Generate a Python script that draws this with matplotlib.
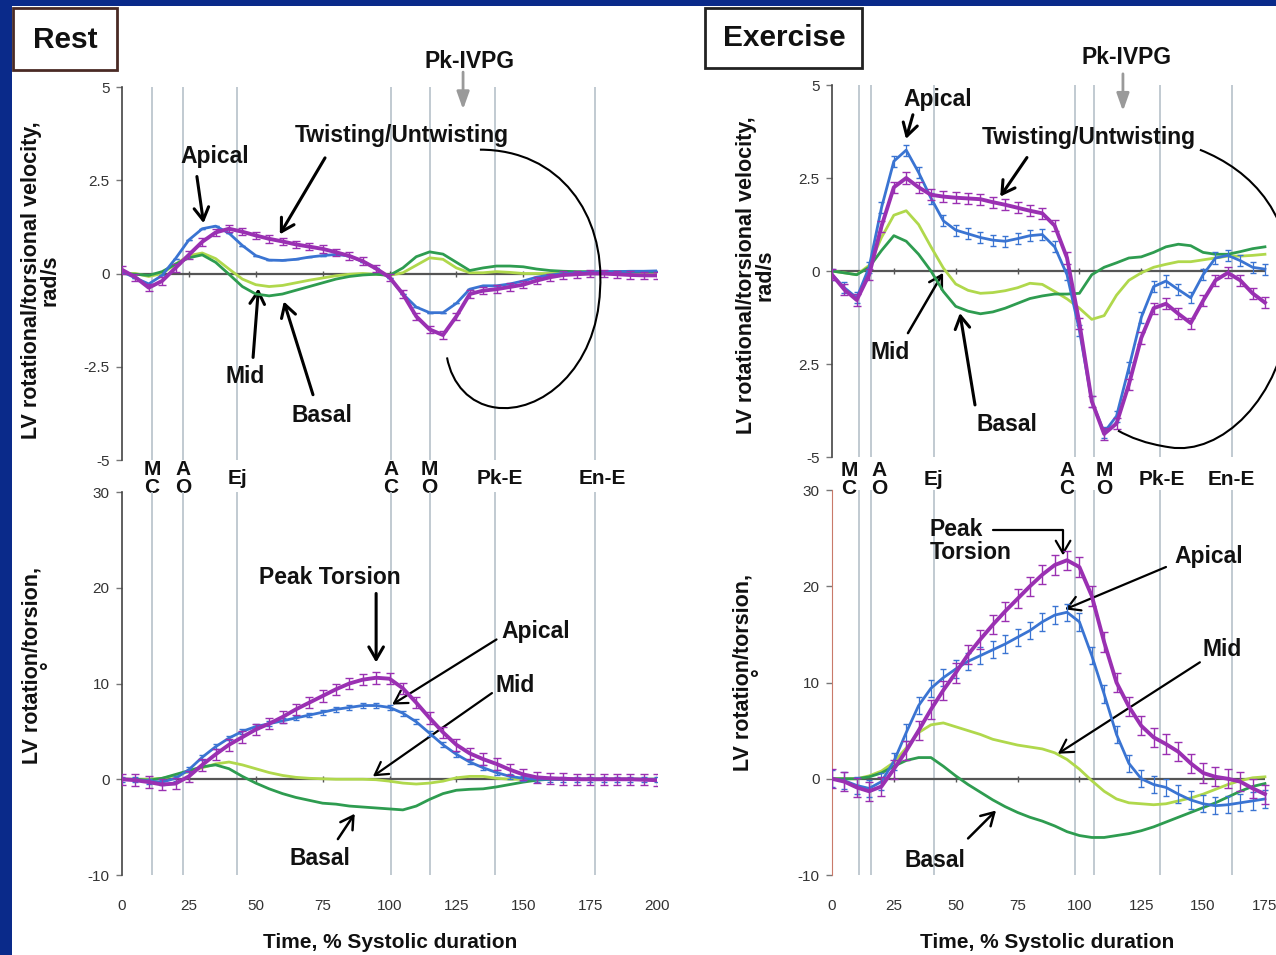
import numpy as np
import matplotlib
matplotlib.use('Agg')
import matplotlib.pyplot as plt
from matplotlib.patches import Rectangle, PathPatch
from matplotlib.path import Path

plt.rcParams['font.family'] = ['Liberation Sans', 'DejaVu Sans']

#---- data ----
rest_x = np.arange(0, 201, 5)
# rotational / torsional velocity, rest (rad/s)
rest_vel_apical = [0.05, -0.12, -0.28, -0.05, 0.4, 0.9, 1.2, 1.27, 1.08, 0.75, 0.48, 0.36, 0.35, 0.38,
                   0.44, 0.48, 0.51, 0.47, 0.32, 0.14, -0.12, -0.55, -0.9, -1.05, -1.05, -0.8, -0.42,
                   -0.33, -0.33, -0.28, -0.2, -0.1, -0.04, 0.0, 0.02, 0.04, 0.05, 0.05, 0.06, 0.06, 0.07]
rest_vel_twist = [0.1, -0.1, -0.38, -0.2, 0.15, 0.5, 0.85, 1.1, 1.2, 1.12, 1.02, 0.93, 0.86, 0.78,
                  0.72, 0.66, 0.57, 0.47, 0.33, 0.13, -0.1, -0.55, -1.15, -1.5, -1.65, -1.15, -0.55,
                  -0.46, -0.42, -0.36, -0.3, -0.19, -0.1, -0.04, -0.02, 0.0, 0.0, -0.02, -0.04, -0.05, -0.05]
rest_vel_mid = [0.0, 0.0, -0.08, 0.0, 0.25, 0.48, 0.55, 0.4, 0.12, -0.15, -0.3, -0.35, -0.32, -0.25,
                -0.18, -0.12, -0.06, -0.02, 0.0, -0.02, -0.05, 0.02, 0.22, 0.42, 0.38, 0.15, 0.02,
                0.02, 0.05, 0.03, 0.0, 0.0, 0.0, 0.0, 0.0, 0.0, 0.0, 0.0, 0.0, 0.0, 0.0]
rest_vel_basal = [0.0, -0.02, -0.05, 0.05, 0.25, 0.42, 0.5, 0.3, -0.02, -0.35, -0.55, -0.6, -0.55, -0.45,
                  -0.35, -0.25, -0.15, -0.08, -0.04, -0.02, -0.05, 0.15, 0.45, 0.58, 0.52, 0.3, 0.08,
                  0.15, 0.2, 0.2, 0.18, 0.12, 0.08, 0.06, 0.05, 0.05, 0.05, 0.05, 0.05, 0.05, 0.05]
# rotation / torsion, rest (degrees)
rest_rot_apical = [0.0, -0.05, -0.2, -0.3, 0.1, 1.0, 2.3, 3.4, 4.3, 5.0, 5.5, 5.8, 6.1, 6.4, 6.7, 7.0,
                   7.3, 7.5, 7.7, 7.7, 7.5, 6.9, 6.0, 4.8, 3.6, 2.6, 1.8, 1.2, 0.7, 0.3, 0.1, 0.0, 0.0,
                   0.0, 0.0, 0.0, 0.0, 0.0, 0.0, 0.0, 0.0]
rest_rot_twist = [0.0, -0.1, -0.3, -0.55, -0.45, 0.3, 1.5, 2.6, 3.6, 4.4, 5.2, 5.8, 6.5, 7.3, 8.0, 8.7,
                  9.4, 10.0, 10.4, 10.6, 10.5, 9.5, 8.0, 6.4, 4.9, 3.6, 2.7, 2.1, 1.6, 1.0, 0.5, 0.2,
                  0.1, 0.05, 0.0, 0.0, 0.0, 0.0, 0.0, -0.05, -0.1]
rest_rot_mid = [0.0, 0.0, 0.0, 0.1, 0.4, 0.8, 1.2, 1.6, 1.8, 1.5, 1.1, 0.7, 0.4, 0.2, 0.1, 0.05, 0.0,
                0.0, 0.0, -0.05, -0.2, -0.4, -0.5, -0.4, -0.2, 0.15, 0.3, 0.3, 0.1, 0.0, 0.0, 0.0,
                0.0, 0.0, 0.0, 0.0, 0.0, 0.0, 0.0, 0.0, 0.0]
rest_rot_basal = [0.0, 0.0, -0.1, 0.1, 0.5, 0.9, 1.3, 1.5, 1.1, 0.3, -0.4, -1.0, -1.5, -1.9, -2.2, -2.5,
                  -2.6, -2.8, -2.9, -3.0, -3.1, -3.2, -2.8, -2.1, -1.5, -1.15, -1.05, -1.0, -0.8, -0.55,
                  -0.3, -0.1, 0.0, 0.0, 0.0, 0.0, 0.0, 0.0, 0.0, 0.0, 0.0]

ex_x = np.arange(0, 176, 5)
# rotational / torsional velocity, exercise (rad/s)
ex_vel_apical = [-0.1, -0.45, -0.72, 0.1, 1.7, 2.95, 3.25, 2.65, 1.96, 1.35, 1.1, 1.0, 0.9, 0.83, 0.8,
                 0.87, 0.95, 0.98, 0.65, -0.1, -1.6, -3.5, -4.34, -3.9, -2.6, -1.25, -0.42, -0.27,
                 -0.5, -0.72, -0.1, 0.35, 0.42, 0.28, 0.1, 0.05]
ex_vel_twist = [-0.1, -0.5, -0.78, -0.1, 1.2, 2.25, 2.5, 2.25, 2.05, 2.0, 1.97, 1.95, 1.93, 1.85, 1.78,
                1.7, 1.62, 1.55, 1.22, 0.35, -1.4, -3.5, -4.38, -4.1, -3.05, -1.8, -1.0, -0.88, -1.15,
                -1.4, -0.8, -0.25, -0.05, -0.25, -0.6, -0.85]
ex_vel_mid = [0.0, -0.05, -0.1, 0.15, 0.9, 1.5, 1.62, 1.25, 0.65, 0.08, -0.35, -0.52, -0.6, -0.58,
              -0.53, -0.45, -0.33, -0.36, -0.55, -0.75, -1.0, -1.3, -1.2, -0.65, -0.25, -0.05, 0.1,
              0.18, 0.25, 0.25, 0.3, 0.35, 0.4, 0.4, 0.42, 0.45]
ex_vel_basal = [0.0, -0.05, -0.1, 0.1, 0.55, 0.95, 0.8, 0.45, 0.0, -0.55, -0.95, -1.08, -1.15, -1.1,
                -1.0, -0.87, -0.74, -0.67, -0.62, -0.62, -0.6, -0.1, 0.1, 0.22, 0.35, 0.38, 0.5, 0.65,
                0.72, 0.68, 0.5, 0.45, 0.45, 0.52, 0.6, 0.65]
# rotation / torsion, exercise (degrees)
ex_rot_apical = [0.0, -0.2, -0.7, -1.0, -0.3, 1.8, 4.8, 7.6, 9.4, 10.5, 11.4, 12.2, 12.8, 13.4, 14.0,
                 14.7, 15.4, 16.3, 17.0, 17.3, 16.3, 12.8, 8.8, 4.6, 1.6, 0.0, -0.6, -0.9, -1.6, -2.2,
                 -2.6, -2.8, -2.7, -2.5, -2.3, -2.1]
ex_rot_twist = [0.0, -0.3, -0.9, -1.3, -0.8, 1.0, 2.9, 5.0, 7.2, 9.2, 11.0, 12.9, 14.5, 16.0, 17.4,
                18.7, 20.0, 21.2, 22.2, 22.7, 22.0, 19.0, 14.2, 10.0, 7.5, 5.5, 4.3, 3.6, 2.8, 1.6,
                0.6, 0.2, 0.0, -0.3, -1.0, -1.6]
ex_rot_mid = [0.0, 0.0, 0.0, 0.3, 0.8, 1.7, 3.2, 4.8, 5.6, 5.8, 5.4, 5.0, 4.6, 4.1, 3.8, 3.5, 3.3,
              3.1, 2.7, 2.0, 1.0, -0.2, -1.3, -2.1, -2.5, -2.6, -2.7, -2.6, -2.3, -2.0, -1.6, -1.1,
              -0.6, -0.2, 0.1, 0.2]
ex_rot_basal = [0.0, 0.0, 0.0, 0.2, 0.6, 1.3, 1.9, 2.2, 2.2, 1.3, 0.3, -0.6, -1.4, -2.2, -2.9, -3.5,
                -4.0, -4.4, -4.9, -5.5, -5.9, -6.1, -6.1, -5.9, -5.7, -5.4, -5.0, -4.5, -4.0, -3.5,
                -3.0, -2.5, -1.9, -1.3, -0.8, -0.5]

# cardiac events
event_labels = ['M\nC', 'A\nO', 'Ej', 'A\nC', 'M\nO', 'Pk-E', 'En-E']
rest_events = [11.2, 22.8, 43, 100.5, 115, 139.5, 177]
rest_label_x = [11.2, 22.8, 43, 100.5, 115, 141.3, 179.4]
ex_events = [10.9, 15.8, 41.2, 98.2, 106, 132.6, 161.7]
ex_label_x = [6.9, 19, 41.2, 95, 110, 133.4, 161.3]

rest_xticks = np.arange(0, 201, 25)
ex_xticks = np.arange(0, 176, 25)
vel_ticks = [5, 2.5, 0, -2.5, -5]
rest_vel_ticklabels = ['5', '2.5', '0', '-2.5', '-5']
ex_vel_ticklabels = ['5', '2.5', '0', '2.5', '-5']
rot_ticks = [30, 20, 10, 0, -10]
rot_ticklabels = ['30', '20', '10', '0', '-10']

C_API = '#3a74d2'
C_TW = '#9a30b2'
C_MID = '#b0d84c'
C_BAS = '#2e9c50'
W, H = 1276, 955


def px_axes(fig, left, top, right, bottom):
    ax = fig.add_axes([left / W, 1 - bottom / H, (right - left) / W, (bottom - top) / H])
    ax.patch.set_visible(False)
    return ax


def style_axis(ax, spine_color='#444444'):
    for s in ['top', 'right', 'bottom']:
        ax.spines[s].set_visible(False)
    ax.spines['left'].set_color(spine_color)
    ax.spines['left'].set_linewidth(1.2)
    ax.tick_params(axis='y', length=4, width=1, color='#777777', labelsize=11, labelcolor='#333333', pad=5)
    ax.tick_params(axis='x', length=0, labelsize=11, labelcolor='#333333', pad=17)


def draw_series(ax, x, api, tw, mid, bas, api_err, tw_err, events, xticks):
    for e in events:
        ax.axvline(e, color='#bcc6ce', lw=1.3, zorder=1)
    ax.hlines(0, x[0], x[-1], color='#555555', lw=1.6, zorder=2)
    ax.plot(xticks[1:-1], np.zeros(len(xticks) - 2), ls='none', marker='|', ms=5, color='#555555', zorder=2)
    ax.plot(x, mid, color=C_MID, lw=2.0, zorder=3)
    ax.plot(x, bas, color=C_BAS, lw=2.0, zorder=4)
    ax.errorbar(x, api, yerr=api_err, color=C_API, lw=2.0, elinewidth=0.9, capsize=2.5, zorder=5)
    ax.errorbar(x, tw, yerr=tw_err, color=C_TW, lw=2.8, elinewidth=1.0, capsize=3, zorder=6)


def arrow(ax, tail, head, color='k', lw=2.2, style='->,head_length=0.6,head_width=0.35', conn='arc3'):
    ax.annotate('', xy=head, xytext=tail,
                arrowprops=dict(arrowstyle=style, color=color, lw=lw, mutation_scale=15,
                                shrinkA=0, shrinkB=0, connectionstyle=conn), annotation_clip=False)


def label(ax, x, y, s, size=16.5, ha='center', **kw):
    ax.text(x, y, s, fontsize=size, weight='bold', color='#111111', ha=ha, va='center', clip_on=False, **kw)


def event_text(ax, xs, y):
    for xv, s in zip(xs, event_labels):
        ax.text(xv, y, s, fontsize=15, weight='bold', color='#111111', ha='center', va='center',
                linespacing=0.9, clip_on=False)


def arc(ax, pts):
    codes = [Path.MOVETO] + [Path.CURVE4] * (len(pts) - 1)
    ax.add_patch(PathPatch(Path(pts, codes), facecolor='none', edgecolor='k', lw=1.5, clip_on=False, zorder=7))


fig = plt.figure(figsize=(W / 100, H / 100), dpi=100, facecolor='#0a2a8a')
fig.patches.append(Rectangle((12 / W, 0), 1 - 12 / W, 1 - 6 / H, transform=fig.transFigure,
                             facecolor='white', edgecolor='none', zorder=-10))

#---- Rest ----
ax1 = px_axes(fig, 122, 87, 657, 460)
ax1.set_xlim(0, 200)
ax1.set_ylim(-5, 5)
style_axis(ax1)
ax1.set_xticks([])
ax1.set_yticks(vel_ticks, rest_vel_ticklabels)
draw_series(ax1, rest_x, rest_vel_apical, rest_vel_twist, rest_vel_mid, rest_vel_basal, 0, 0.1,
            rest_events, rest_xticks)
event_text(ax1, rest_label_x, -5.5)
label(ax1, 34.8, 3.14, 'Apical')
arrow(ax1, (28, 2.6), (30.5, 1.35))
label(ax1, 104.7, 3.7, 'Twisting/Untwisting')
arrow(ax1, (75.9, 3.1), (59, 1.05))
label(ax1, 46, -2.76, 'Mid')
arrow(ax1, (49, -2.25), (51, -0.4))
label(ax1, 74.8, -3.8, 'Basal')
arrow(ax1, (71.4, -3.25), (60.5, -0.75))
label(ax1, 130, 5.68, 'Pk-IVPG')
arrow(ax1, (127.5, 5.4), (127.5, 4.4), color='#9a9a9a', lw=2, style='-|>,head_length=0.7,head_width=0.25')
arc(ax1, [(133.8, 3.32), (163.7, 3.32), (180.6, 1.58), (178.7, -0.43),
          (177.6, -2.57), (156.3, -3.78), (139.4, -3.59),
          (130.1, -3.49), (123.4, -2.98), (121.5, -2.25)])

ax2 = px_axes(fig, 122, 492, 657, 875)
ax2.set_xlim(0, 200)
ax2.set_ylim(-10, 30)
style_axis(ax2)
ax2.set_xticks(rest_xticks)
ax2.set_yticks(rot_ticks, rot_ticklabels)
for e in rest_events:
    ax2.axvline(e, color='#bcc6ce', lw=1.3, zorder=1)
draw_series(ax2, rest_x, rest_rot_apical, rest_rot_twist, rest_rot_mid, rest_rot_basal, 0.25, 0.6,
            [], rest_xticks)
label(ax2, 77.8, 21.1, 'Peak Torsion')
arrow(ax2, (95, 19.4), (95, 12.2))
label(ax2, 154.8, 15.4, 'Apical')
arrow(ax2, (140, 14.6), (101, 7.8), lw=1.6)
label(ax2, 147, 9.8, 'Mid')
arrow(ax2, (138.3, 9.0), (93.8, 0.3), lw=1.6)
label(ax2, 74, -8.3, 'Basal')
arrow(ax2, (80.7, -6.25), (87, -3.6), lw=1.8)

#---- Exercise ----
ax3 = px_axes(fig, 832, 85, 832 + 180 * 2.474, 457)
ax3.set_xlim(0, 180)
ax3.set_ylim(-5, 5)
style_axis(ax3)
ax3.set_xticks([])
ax3.set_yticks(vel_ticks, ex_vel_ticklabels)
draw_series(ax3, ex_x, ex_vel_apical, ex_vel_twist, ex_vel_mid, ex_vel_basal, 0.15, 0.15,
            ex_events, ex_xticks)
event_text(ax3, ex_label_x, -5.6)
label(ax3, 42.8, 4.6, 'Apical')
arrow(ax3, (32.7, 4.2), (29.9, 3.55))
label(ax3, 103.9, 3.6, 'Twisting/Untwisting')
arrow(ax3, (78.8, 3.05), (68, 2.0))
label(ax3, 23.4, -2.2, 'Mid')
arrow(ax3, (30.7, -1.67), (44.9, -0.05), lw=1.8)
label(ax3, 70.7, -4.12, 'Basal')
arrow(ax3, (57.8, -3.6), (51.7, -1.13))
label(ax3, 119.2, 5.74, 'Pk-IVPG')
arrow(ax3, (117.6, 5.3), (117.6, 4.3), color='#9a9a9a', lw=2, style='-|>,head_length=0.7,head_width=0.25')
arc(ax3, [(148.7, 3.26), (169.0, 2.72), (189.2, 1.51), (185.1, -1.05),
          (181.9, -3.47), (156.8, -4.96), (136.6, -4.74),
          (126.5, -4.64), (120.5, -4.47), (115.6, -4.29)])

ax4 = px_axes(fig, 832, 490, 832 + 180 * 2.474, 875)
ax4.set_xlim(0, 180)
ax4.set_ylim(-10, 30)
style_axis(ax4, spine_color='#c97a6a')
ax4.spines['left'].set_linewidth(0.8)
ax4.set_xticks(ex_xticks)
ax4.set_yticks(rot_ticks, rot_ticklabels)
for e in ex_events:
    ax4.axvline(e, color='#bcc6ce', lw=1.3, zorder=1)
draw_series(ax4, ex_x, ex_rot_apical, ex_rot_twist, ex_rot_mid, ex_rot_basal, 0.9, 1.0,
            [], ex_xticks)
label(ax4, 39.6, 24.7, 'Peak\nTorsion', ha='left', linespacing=0.95)
arrow(ax4, (65.1, 25.8), (93.4, 23.2), lw=1.6, conn='angle,angleA=0,angleB=90,rad=0')
label(ax4, 152.4, 23.1, 'Apical')
arrow(ax4, (135, 22), (94.2, 17.6), lw=1.6)
label(ax4, 157.6, 13.4, 'Mid')
arrow(ax4, (148.7, 12.1), (91.3, 2.6), lw=1.6)
label(ax4, 41.6, -8.5, 'Basal')
arrow(ax4, (55, -6.2), (66.3, -3.3), lw=1.8)

#---- titles and axis labels ----
fig.patches.append(Rectangle((13 / W, 1 - 70 / H), 104 / W, 62 / H, transform=fig.transFigure,
                             facecolor='white', edgecolor='#4a2a25', lw=2))
fig.text(65 / W, 1 - 40 / H, 'Rest', fontsize=21.5, weight='bold', color='#111111', ha='center', va='center')
fig.patches.append(Rectangle((705 / W, 1 - 68 / H), 157 / W, 60 / H, transform=fig.transFigure,
                             facecolor='white', edgecolor='#222222', lw=2))
fig.text(784 / W, 1 - 38 / H, 'Exercise', fontsize=21.5, weight='bold', color='#111111', ha='center', va='center')

ylab = dict(rotation=90, ha='center', va='center', multialignment='center', fontsize=15.5,
            weight='bold', color='#111111', linespacing=0.85)
fig.text(41 / W, 1 - 280 / H, 'LV rotational/torsional velocity,\nrad/s', **ylab)
fig.text(41 / W, 1 - 665 / H, 'LV rotation/torsion,\n°', **ylab)
fig.text(756 / W, 1 - 275 / H, 'LV rotational/torsional velocity,\nrad/s', **ylab)
fig.text(752 / W, 1 - 672 / H, 'LV rotation/torsion,\n°', **ylab)

fig.text(390 / W, 1 - 942 / H, 'Time, % Systolic duration', fontsize=15, weight='bold', color='#111111',
         ha='center', va='center')
fig.text(1047 / W, 1 - 942 / H, 'Time, % Systolic duration', fontsize=15, weight='bold', color='#111111',
         ha='center', va='center')

fig.savefig('out.png', dpi=100, facecolor=fig.get_facecolor())
